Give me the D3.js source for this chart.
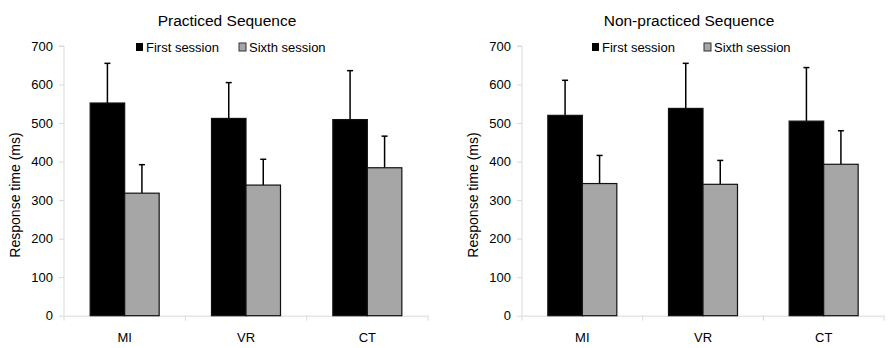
<!DOCTYPE html>
<html><head><meta charset="utf-8">
<script src="https://cdn.jsdelivr.net/npm/d3@7"></script>
<style>body{margin:0;background:#fff}svg{display:block;font-family:"Liberation Sans",Arial,sans-serif}</style>
</head><body><svg id="c" width="892" height="348"></svg>
<script>
const categories = ["MI", "VR", "CT"];
const seriesNames = ["First session", "Sixth session"];
const yTicks = [0, 100, 200, 300, 400, 500, 600, 700];
const titles = ["Practiced Sequence", "Non-practiced Sequence"];
// Practiced
const practicedFirst = [552, 512, 509];
const practicedFirstErr = [103, 93, 127];
const practicedSixth = [318, 339, 384];
const practicedSixthErr = [74, 67, 82];
// Non-practiced
const nonFirst = [520, 538, 505];
const nonFirstErr = [91, 117, 139];
const nonSixth = [343, 341, 393];
const nonSixthErr = [73, 62, 87];

const colors = ["#000000", "#a6a6a6"];
const svg = d3.select("#c");

const panels = [
  {title: titles[0], series: [practicedFirst, practicedSixth], errs: [practicedFirstErr, practicedSixthErr], x0: 64, x1: 428, legendX: 136, legendGap: 103, titleX: 227},
  {title: titles[1], series: [nonFirst, nonSixth], errs: [nonFirstErr, nonSixthErr], x0: 522, x1: 884, legendX: 592, legendGap: 112, titleX: 689}
];
const yTop = 46, yBot = 315.7;

panels.forEach(p => {
  const g = svg.append("g");
  const x = d3.scaleBand().domain(categories).range([p.x0, p.x1]).paddingInner(0).paddingOuter(0);
  const xs = d3.scaleBand().domain([0, 1]).range([0, 69]);
  const y = d3.scaleLinear().domain([0, 700]).range([yBot, yTop]);

  // y axis
  const ya = g.append("g").attr("transform", `translate(${p.x0},0)`)
    .call(d3.axisLeft(y).tickValues(yTicks).tickSize(5).tickPadding(6));
  ya.select(".domain").attr("stroke", "#d9d9d9").attr("d", `M-5,${yTop}H0V${yBot}`);
  ya.selectAll(".tick line").attr("stroke", "#d9d9d9");
  ya.selectAll(".tick text").attr("font-size", 13).attr("fill", "#000").attr("font-family", "Liberation Sans, Arial, sans-serif");

  // x axis
  const xa = g.append("g").attr("transform", `translate(0,${yBot})`)
    .call(d3.axisBottom(x).tickSize(0).tickPadding(17));
  xa.select(".domain").attr("stroke", "#d9d9d9");
  xa.selectAll(".tick text").attr("font-size", 13).attr("fill", "#000").attr("font-family", "Liberation Sans, Arial, sans-serif");
  // boundary ticks
  const bounds = categories.map(c => x(c)).concat([p.x1]);
  g.selectAll(".bt").data(bounds).enter().append("line")
    .attr("x1", d => d).attr("x2", d => d).attr("y1", yBot).attr("y2", yBot + 5)
    .attr("stroke", "#d9d9d9");

  // bars
  p.series.forEach((vals, si) => {
    const gx = c => x(c) + (x.bandwidth() - 69) / 2 + xs(si);
    g.selectAll(".e" + si).data(categories).enter().append("line")
      .attr("x1", (c) => gx(c) + xs.bandwidth() / 2).attr("x2", (c) => gx(c) + xs.bandwidth() / 2)
      .attr("y1", (c, i) => y(vals[i])).attr("y2", (c, i) => y(vals[i] + p.errs[si][i]))
      .attr("stroke", "#000").attr("stroke-width", 1.5);
    g.selectAll(".c" + si).data(categories).enter().append("line")
      .attr("x1", (c) => gx(c) + xs.bandwidth() / 2 - 3).attr("x2", (c) => gx(c) + xs.bandwidth() / 2 + 3)
      .attr("y1", (c, i) => y(vals[i] + p.errs[si][i])).attr("y2", (c, i) => y(vals[i] + p.errs[si][i]))
      .attr("stroke", "#000").attr("stroke-width", 1.5);
    g.selectAll(".b" + si).data(categories).enter().append("rect")
      .attr("x", c => gx(c)).attr("width", xs.bandwidth())
      .attr("y", (c, i) => y(vals[i])).attr("height", (c, i) => yBot - y(vals[i]))
      .attr("fill", colors[si]).attr("stroke", "#111").attr("stroke-width", 1.2);
  });

  // title
  g.append("text").attr("x", p.titleX).attr("y", 26).attr("text-anchor", "middle")
    .attr("font-size", 15.5).text(p.title);

  // legend
  const lg = g.append("g").attr("transform", `translate(${p.legendX},47)`);
  seriesNames.forEach((n, i) => {
    const ox = i * p.legendGap;
    lg.append("rect").attr("x", ox).attr("y", -4).attr("width", 7).attr("height", 8)
      .attr("fill", colors[i]).attr("stroke", "#333").attr("stroke-width", i ? 1 : 0);
    lg.append("text").attr("x", ox + 10).attr("y", 5).attr("font-size", 13).text(n);
  });

  // y title
  g.append("text").attr("transform", `translate(${p.x0 - 44},${195}) rotate(-90)`)
    .attr("text-anchor", "middle").attr("font-size", 14).text("Response time (ms)");
});
</script></body></html>
